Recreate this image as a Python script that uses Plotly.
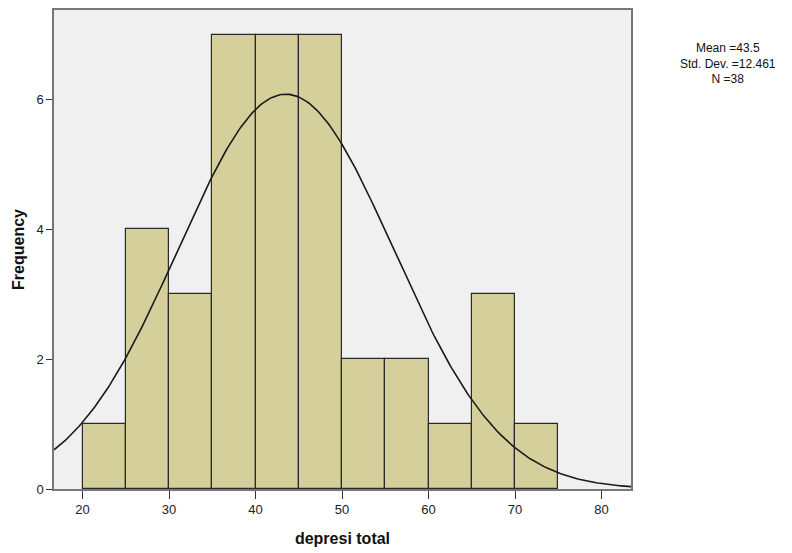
import numpy as np
import plotly.graph_objects as go

bin_starts = [20, 25, 30, 35, 40, 45, 50, 55, 60, 65, 70]
frequencies = [1, 4, 3, 7, 7, 7, 2, 2, 1, 3, 1]
bin_width = 5
mean_val = 43.5
std_val = 12.461
n_val = 38
x_ticks = [20, 30, 40, 50, 60, 70, 80]
y_ticks = [0, 2, 4, 6]

fig = go.Figure()
fig.add_trace(go.Bar(
    x=[b + bin_width / 2 for b in bin_starts], y=frequencies, width=bin_width,
    marker=dict(color="#D4CF9B", line=dict(color="#2a2a2a", width=1.2)),
    showlegend=False, hoverinfo="skip"))

xs = np.linspace(16.7, 83.4, 300)
ys = n_val * bin_width / (std_val * np.sqrt(2 * np.pi)) * np.exp(-0.5 * ((xs - mean_val) / std_val) ** 2)
fig.add_trace(go.Scatter(x=xs, y=ys, mode="lines", line=dict(color="#1a1a1a", width=1.6),
                         showlegend=False, hoverinfo="skip"))

fig.update_layout(
    width=792, height=553,
    margin=dict(l=54, r=161, t=8, b=64),
    paper_bgcolor="white", plot_bgcolor="#F0F0F0",
    bargap=0,
    font=dict(family="Liberation Sans, Arial, sans-serif", color="#222222", size=13),
    xaxis=dict(range=[16.7, 83.4], tickvals=x_ticks, ticks="outside", ticklen=8,
               tickcolor="#333333", showgrid=False, zeroline=False,
               showline=True, linecolor="#777777", mirror=True, linewidth=1.5,
               title=dict(text="<b>depresi total</b>", font=dict(size=16, color="#111111"), standoff=16)),
    yaxis=dict(range=[0, 7.38], tickvals=y_ticks, ticks="outside", ticklen=6,
               tickcolor="#333333", showgrid=False, zeroline=False,
               showline=True, linecolor="#777777", mirror=True, linewidth=1.5,
               title=dict(text="<b>Frequency</b>", font=dict(size=16, color="#111111"), standoff=8)),
    annotations=[dict(
        text=f"Mean ={mean_val}<br>Std. Dev. ={std_val}<br>N ={n_val}",
        xref="paper", yref="paper", x=1.0 + (728 - 631) / 577, y=1 - (37 - 8) / 481,
        xanchor="center", yanchor="top", showarrow=False, align="center",
        font=dict(size=12, color="#111111"))],
)
fig.write_html("out.html")
